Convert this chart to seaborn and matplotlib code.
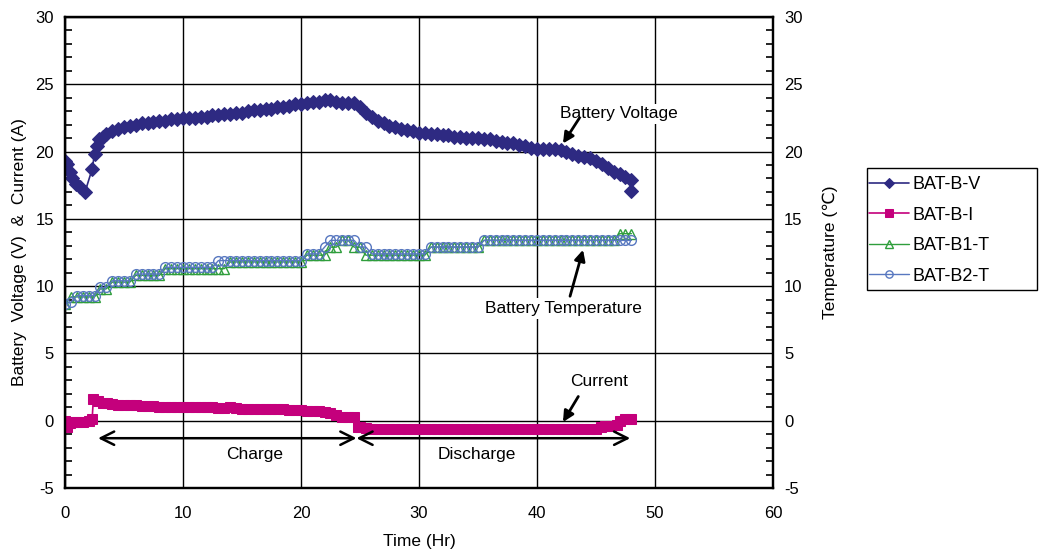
import numpy as np
import matplotlib
matplotlib.use("Agg")
import matplotlib.pyplot as plt
import seaborn as sns
from matplotlib.ticker import MultipleLocator
from matplotlib.patches import Rectangle

# Battery voltage (V) vs time (Hr)
volt_t = [0.0, 0.2, 0.4, 0.6, 0.9, 1.3, 1.7, 2.3, 2.5, 2.7, 2.9, 3.2, 3.5, 4.0, 4.5,
          5.0, 5.5, 6.0, 6.5, 7.0, 7.5, 8.0, 8.5, 9.0, 9.5, 10.0, 10.5, 11.0, 11.5,
          12.0, 12.5, 13.0, 13.5, 14.0, 14.5, 15.0, 15.5, 16.0, 16.5, 17.0, 17.5,
          18.0, 18.5, 19.0, 19.5, 20.0, 20.5, 21.0, 21.5, 22.0, 22.5, 23.0, 23.5,
          24.0, 24.5, 25.0, 25.5, 26.0, 26.5, 27.0, 27.5, 28.0, 28.5, 29.0, 29.5,
          30.0, 30.5, 31.0, 31.5, 32.0, 32.5, 33.0, 33.5, 34.0, 34.5, 35.0, 35.5,
          36.0, 36.5, 37.0, 37.5, 38.0, 38.5, 39.0, 39.5, 40.0, 40.5, 41.0, 41.5,
          42.0, 42.5, 43.0, 43.5, 44.0, 44.5, 45.0, 45.5, 46.0, 46.5, 47.0, 47.5,
          48.0, 48.0]
volt_v = [19.3, 19.1, 18.5, 18.0, 17.6, 17.4, 17.0, 18.7, 19.8, 20.4, 20.9, 21.1, 21.3, 21.5, 21.7,
          21.8, 21.9, 22.0, 22.1, 22.1, 22.2, 22.3, 22.3, 22.4, 22.4, 22.5, 22.5, 22.5, 22.6,
          22.6, 22.7, 22.7, 22.8, 22.8, 22.9, 22.9, 23.0, 23.1, 23.1, 23.2, 23.2,
          23.3, 23.3, 23.4, 23.5, 23.5, 23.6, 23.7, 23.7, 23.8, 23.8, 23.7, 23.6,
          23.6, 23.6, 23.3, 22.9, 22.6, 22.3, 22.1, 21.9, 21.8, 21.7, 21.6, 21.5,
          21.4, 21.4, 21.3, 21.3, 21.2, 21.2, 21.1, 21.1, 21.0, 21.0, 21.0, 20.9,
          20.9, 20.8, 20.7, 20.6, 20.6, 20.5, 20.4, 20.3, 20.2, 20.2, 20.2, 20.2,
          20.1, 20.0, 19.8, 19.7, 19.6, 19.5, 19.3, 19.1, 18.8, 18.5, 18.3, 18.1,
          17.9, 17.1]

# Battery current (A)
curr_t = [0.0, 0.2, 0.4, 0.7, 1.0, 1.5, 2.0, 2.3, 2.4, 2.8, 3.2, 3.6, 4.0, 4.5,
          5.0, 5.5, 6.0, 6.5, 7.0, 7.5, 8.0, 8.5, 9.0, 9.5, 10.0, 10.5, 11.0, 11.5,
          12.0, 12.5, 13.0, 13.5, 14.0, 14.5, 15.0, 15.5, 16.0, 16.5, 17.0, 17.5,
          18.0, 18.5, 19.0, 19.5, 20.0, 20.5, 21.0, 21.5, 22.0, 22.5, 23.0, 23.5,
          24.0, 24.5, 24.8, 25.0, 25.5, 26.0, 26.5, 27.0, 27.5, 28.0, 28.5, 29.0,
          29.5, 30.0, 30.5, 31.0, 31.5, 32.0, 32.5, 33.0, 33.5, 34.0, 34.5, 35.0,
          35.5, 36.0, 36.5, 37.0, 37.5, 38.0, 38.5, 39.0, 39.5, 40.0, 40.5, 41.0,
          41.5, 42.0, 42.5, 43.0, 43.5, 44.0, 44.5, 45.0, 45.4, 45.8, 46.3, 46.8,
          47.0, 47.5, 48.0]
curr_a = [0.0, -0.5, -0.2, -0.1, -0.1, -0.1, 0.0, 0.1, 1.6, 1.45, 1.35, 1.3, 1.25, 1.2,
          1.2, 1.15, 1.15, 1.1, 1.1, 1.1, 1.05, 1.05, 1.05, 1.0, 1.0, 1.0, 1.0, 1.0,
          1.0, 1.0, 0.95, 0.95, 1.0, 0.95, 0.9, 0.9, 0.9, 0.85, 0.9, 0.85,
          0.85, 0.85, 0.8, 0.8, 0.8, 0.75, 0.75, 0.7, 0.65, 0.55, 0.4, 0.3,
          0.25, 0.25, -0.5, -0.5, -0.55, -0.6, -0.6, -0.6, -0.62, -0.62, -0.62, -0.62,
          -0.62, -0.62, -0.62, -0.62, -0.62, -0.62, -0.62, -0.62, -0.62, -0.62, -0.62, -0.62,
          -0.62, -0.62, -0.62, -0.62, -0.62, -0.62, -0.62, -0.62, -0.62, -0.62, -0.62, -0.62,
          -0.62, -0.62, -0.62, -0.62, -0.62, -0.62, -0.62, -0.6, -0.45, -0.4, -0.4, -0.35,
          0.0, 0.1, 0.1]

# Battery temperatures (deg C), same sampling times for both sensors
temp_t = [0.0, 0.5, 1.0, 1.5, 2.0, 2.5, 3.0, 3.5, 4.0, 4.5, 5.0, 5.5, 6.0, 6.5, 7.0, 7.5,
          8.0, 8.5, 9.0, 9.5, 10.0, 10.5, 11.0, 11.5, 12.0, 12.5, 13.0, 13.5, 14.0, 14.5,
          15.0, 15.5, 16.0, 16.5, 17.0, 17.5, 18.0, 18.5, 19.0, 19.5, 20.0, 20.5, 21.0,
          21.5, 22.0, 22.5, 23.0, 23.5, 24.0, 24.5, 25.0, 25.5, 26.0, 26.5, 27.0, 27.5,
          28.0, 28.5, 29.0, 29.5, 30.0, 30.5, 31.0, 31.5, 32.0, 32.5, 33.0, 33.5, 34.0,
          34.5, 35.0, 35.5, 36.0, 36.5, 37.0, 37.5, 38.0, 38.5, 39.0, 39.5, 40.0, 40.5,
          41.0, 41.5, 42.0, 42.5, 43.0, 43.5, 44.0, 44.5, 45.0, 45.5, 46.0, 46.5, 47.0,
          47.5, 48.0]
temp_b1 = [8.7, 9.2, 9.2, 9.2, 9.2, 9.2, 9.8, 9.8, 10.3, 10.3, 10.3, 10.3, 10.8, 10.8, 10.8, 10.8,
           10.8, 11.3, 11.3, 11.3, 11.3, 11.3, 11.3, 11.3, 11.3, 11.3, 11.3, 11.3, 11.8, 11.8,
           11.8, 11.8, 11.8, 11.8, 11.8, 11.8, 11.8, 11.8, 11.8, 11.8, 11.8, 12.3, 12.3,
           12.3, 12.3, 12.9, 12.9, 13.4, 13.4, 12.9, 12.9, 12.3, 12.3, 12.3, 12.3, 12.3,
           12.3, 12.3, 12.3, 12.3, 12.3, 12.3, 12.9, 12.9, 12.9, 12.9, 12.9, 12.9, 12.9,
           12.9, 12.9, 13.4, 13.4, 13.4, 13.4, 13.4, 13.4, 13.4, 13.4, 13.4, 13.4, 13.4,
           13.4, 13.4, 13.4, 13.4, 13.4, 13.4, 13.4, 13.4, 13.4, 13.4, 13.4, 13.4, 13.9,
           13.9, 13.9]
temp_b2 = [8.7, 8.8, 9.3, 9.3, 9.3, 9.3, 9.9, 9.9, 10.4, 10.4, 10.4, 10.4, 10.9, 10.9, 10.9, 10.9,
           10.9, 11.4, 11.4, 11.4, 11.4, 11.4, 11.4, 11.4, 11.4, 11.4, 11.9, 11.9, 11.9, 11.9,
           11.9, 11.9, 11.9, 11.9, 11.9, 11.9, 11.9, 11.9, 11.9, 11.9, 11.9, 12.4, 12.4,
           12.4, 12.9, 13.4, 13.4, 13.4, 13.4, 13.4, 12.9, 12.9, 12.4, 12.4, 12.4, 12.4,
           12.4, 12.4, 12.4, 12.4, 12.4, 12.4, 12.9, 12.9, 12.9, 12.9, 12.9, 12.9, 12.9,
           12.9, 12.9, 13.4, 13.4, 13.4, 13.4, 13.4, 13.4, 13.4, 13.4, 13.4, 13.4, 13.4,
           13.4, 13.4, 13.4, 13.4, 13.4, 13.4, 13.4, 13.4, 13.4, 13.4, 13.4, 13.4, 13.4,
           13.4, 13.4]

series_labels = ["BAT-B-V", "BAT-B-I", "BAT-B1-T", "BAT-B2-T"]

sns.set_style("white")
plt.rcParams['font.family'] = ['Liberation Sans', 'DejaVu Sans']
plt.rcParams['font.size'] = 12
plt.rcParams['text.color'] = 'black'
plt.rcParams['axes.labelcolor'] = 'black'
plt.rcParams['axes.unicode_minus'] = False

fig = plt.figure(figsize=(10.39, 5.54), dpi=100)
ax = fig.add_axes([65 / 1039, 1 - 488 / 554, (773 - 65) / 1039, (488 - 17) / 554])
ax2 = ax.twinx()

# voltage and current on the left axis
sns.lineplot(x=volt_t, y=volt_v, ax=ax, sort=False, estimator=None, color="#2e2a82",
             marker="D", markersize=7, markeredgecolor="#2e2a82", lw=1.2, label=series_labels[0])
sns.lineplot(x=curr_t, y=curr_a, ax=ax, sort=False, estimator=None, color="#c4007c",
             marker="s", markersize=7, markeredgecolor="#c4007c", lw=1.2, label=series_labels[1])

# temperatures on the right axis
sns.lineplot(x=temp_t, y=temp_b1, ax=ax2, sort=False, estimator=None, color="#2f9e3c",
             marker="^", markersize=7, markerfacecolor="none", markeredgecolor="#2f9e3c",
             markeredgewidth=1, lw=1, label=series_labels[2])
sns.lineplot(x=temp_t, y=temp_b2, ax=ax2, sort=False, estimator=None, color="#5878c0",
             marker="o", markersize=7, markerfacecolor="none", markeredgecolor="#5878c0",
             markeredgewidth=1, lw=1, label=series_labels[3])

h1, l1 = ax.get_legend_handles_labels()
h2, l2 = ax2.get_legend_handles_labels()
for a in (ax, ax2):
    if a.get_legend() is not None:
        a.get_legend().remove()

for a in (ax, ax2):
    a.set_xlim(0, 60)
    a.set_ylim(-5, 30)
    a.yaxis.set_major_locator(MultipleLocator(5))
    a.yaxis.set_minor_locator(MultipleLocator(1))
    a.tick_params(which="both", direction="in", width=1.2, labelsize=12,
                  colors="black", labelcolor="black")
    a.tick_params(which="major", length=0)
    a.tick_params(which="minor", length=5)
ax.xaxis.set_major_locator(MultipleLocator(10))
ax.xaxis.set_minor_locator(MultipleLocator(2))
ax.tick_params(axis="x", which="major", length=6, pad=13)
ax.tick_params(axis="y", which="major", pad=8)
ax2.tick_params(axis="y", which="major", pad=8)

ax.grid(True, which="major", color="black", lw=1)
ax.set_axisbelow(True)
for a in (ax, ax2):
    for s in a.spines.values():
        s.set_color("black")
        s.set_linewidth(1.6)

ax.set_xlabel("Time (Hr)", fontsize=12.5, labelpad=9)
ax.set_ylabel("Battery  Voltage (V)  &  Current (A)", fontsize=12.5, labelpad=6)
ax2.set_ylabel("Temperature (℃)", fontsize=12.5, labelpad=14)

box = dict(fc="white", ec="none", pad=2)
arrow = dict(arrowstyle="-|>", color="black", lw=2, mutation_scale=16, shrinkA=0, shrinkB=0)
ax.text(46.9, 22.8, "Battery Voltage", ha="center", va="center", fontsize=12.5, bbox=box, zorder=1)
ax.annotate("", xy=(42.2, 20.6), xytext=(43.6, 22.5), arrowprops=arrow)
ax.text(42.2, 8.35, "Battery Temperature", ha="center", va="center", fontsize=12.5, bbox=box, zorder=1)
ax.annotate("", xy=(43.9, 12.7), xytext=(42.8, 9.25), arrowprops=arrow)
ax.text(45.3, 2.95, "Current", ha="center", va="center", fontsize=12.5, bbox=box, zorder=1)
ax.annotate("", xy=(42.2, -0.1), xytext=(43.5, 1.8), arrowprops=arrow)

# charge / discharge spans
span = dict(arrowstyle="<->,head_length=0.8,head_width=0.4", color="black", lw=1.8,
            shrinkA=0, shrinkB=0)
ax.annotate("", xy=(2.8, -1.3), xytext=(24.7, -1.3), arrowprops=span)
ax.annotate("", xy=(24.7, -1.3), xytext=(47.9, -1.3), arrowprops=span)
ax.text(16.1, -2.5, "Charge", ha="center", va="center", fontsize=12.5, bbox=box)
ax.text(34.9, -2.5, "Discharge", ha="center", va="center", fontsize=12.5, bbox=box)

# legend box on the right
fig.legend(h1 + h2, l1 + l2, loc="upper left", bbox_to_anchor=(869 / 1039, 1 - 176 / 554),
           frameon=False, fontsize=13, handlelength=2.2, handletextpad=0.2,
           labelspacing=0.75, borderaxespad=0, borderpad=0, markerscale=0.75)
fig.patches.append(Rectangle((867 / 1039, 1 - 290 / 554), (1037 - 867) / 1039, (290 - 168) / 554,
                             transform=fig.transFigure, fill=False, ec="black", lw=1))

fig.savefig("out.png", dpi=100)
